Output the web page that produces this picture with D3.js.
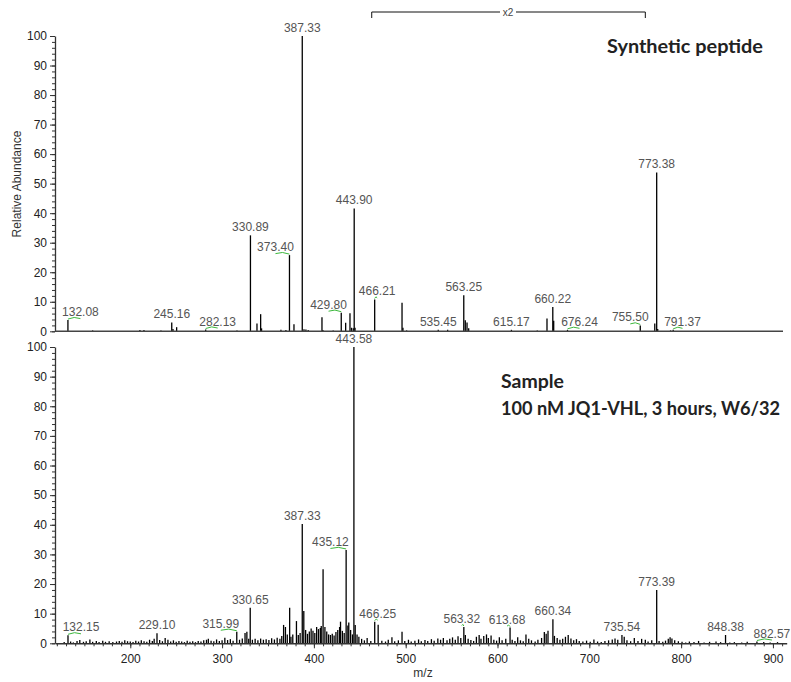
<!DOCTYPE html>
<html>
<head>
<meta charset="utf-8">
<script src="https://cdn.jsdelivr.net/npm/d3@7"></script>
<style>
  body { margin: 0; background: #fff; }
  svg { display: block; }
  text { font-family: "Liberation Sans", Arial, sans-serif; }
  text.title { font-family: Lato, "Open Sans", sans-serif; font-weight: bold; }
</style>
</head>
<body>
<svg id="chart" width="791" height="682"></svg>
<script>
// ---- data: [m/z, relative abundance] ----
let synthPeaks = [
    [132.08, 3.8], [159, 0.3], [210.5, 0.4], [214.9, 0.4], [233.4, 0.3], [245.16, 3.0], [246.5, 0.8],
    [250.5, 1.4], [282.13, 0.6], [316.2, 0.3], [330.89, 32.5], [338, 2.6], [342, 5.8], [343, 1.0],
    [364.1, 0.5], [369.5, 0.4], [373.40, 25.8], [378.3, 2.4], [387.33, 100], [389.2, 0.7], [391.3, 0.6],
    [393.8, 0.4], [408.8, 4.8], [409.8, 0.4], [421, 0.3], [429.80, 6.3], [434.6, 2.9], [439.3, 6.1],
    [441, 1.2], [442.9, 1.0], [443.90, 41.6], [444.8, 1.2], [466.21, 10.8], [496, 9.7], [497, 1.2],
    [501, 0.3], [535.45, 0.5], [545.7, 0.5], [563.25, 12.2], [564.9, 3.7], [566.8, 3.0], [568.6, 1.0],
    [615.17, 0.5], [643.3, 0.3], [653.9, 4.3], [660.22, 8.2], [661.2, 3.6], [676.24, 0.5], [755.50, 2.0],
    [771.3, 2.6], [773.38, 53.8], [774.5, 0.8], [788.5, 0.3], [791.37, 0.5]
];
let synthLabels = [132.08, 245.16, 282.13, 330.89, 373.40, 387.33, 429.80, 443.90, 466.21,
    535.45, 563.25, 615.17, 660.22, 676.24, 755.50, 773.38, 791.37];

let samplePeaks = [
    [128, 0.4], [132.15, 2.7], [135, 0.6], [138, 0.3], [142, 0.8], [145, 1.1], [149, 0.5], [152, 0.7],
    [156, 1.3], [159, 0.5], [163, 0.8], [166, 0.4], [170, 0.9], [173, 0.5], [177, 0.7], [181, 0.4],
    [185, 0.6], [188, 0.8], [191, 0.5], [194, 1.0], [197, 0.7], [200, 0.6], [203, 0.4], [206, 0.9],
    [209, 0.6], [212, 1.0], [215, 0.7], [218, 0.5], [221, 1.2], [224, 0.8], [226, 1.5], [229.10, 3.4],
    [232, 1.1], [235, 0.7], [238, 1.8], [241, 1.2], [244, 0.6], [247, 1.0], [250, 0.5], [253, 0.8],
    [256, 0.6], [259, 0.4], [262, 0.9], [265, 0.5], [268, 0.7], [271, 0.4], [274, 0.8], [277, 0.6],
    [280, 1.0], [283, 1.2], [285, 1.5], [288, 0.9], [291, 0.7], [294, 1.3], [297, 0.8], [300, 1.0],
    [303, 1.9], [306, 1.1], [309, 1.4], [312, 0.9], [315.99, 3.9], [319, 1.2], [322, 1.6], [325, 3.5],
    [327, 3.9], [329, 1.5], [330.65, 12.0], [333, 1.2], [336, 1.5], [339, 1.0], [342, 1.6], [345, 1.2],
    [348, 1.4], [351, 1.1], [354, 1.7], [357, 1.3], [360, 1.9], [363, 1.5], [365, 2.5], [367, 6.2],
    [369, 5.5], [371, 3.0], [373.6, 12.0], [375, 2.2], [377, 3.0], [381, 7.5], [383, 2.8], [385, 3.5],
    [387.33, 40.3], [389, 10.9], [391, 4.5], [393, 3.2], [395, 4.0], [397, 5.0], [399, 4.2], [401, 3.5],
    [403, 5.5], [405, 4.8], [407, 5.2], [408, 5.8], [410, 25.0], [412, 5.5], [414, 4.0], [416, 3.0],
    [418, 2.8], [420, 3.2], [422, 2.6], [424, 3.8], [426, 4.5], [428, 5.5], [429, 7.3], [431, 4.2],
    [433, 3.5], [435.12, 31.5], [437, 6.0], [438, 7.0], [440, 4.5], [442, 3.0], [443.58, 100], [445, 6.2],
    [447, 3.0], [449, 2.2], [452, 1.5], [455, 1.0], [458, 1.8], [462, 0.8], [466.25, 7.3], [470, 6.3],
    [474, 0.9], [478, 0.6], [481, 1.2], [485, 2.0], [488, 0.7], [492, 1.0], [496, 3.9], [499, 0.8],
    [503, 1.2], [506, 0.6], [510, 0.9], [514, 1.3], [517, 0.7], [521, 1.1], [524, 0.8], [528, 1.4],
    [531, 0.9], [535, 1.6], [538, 1.2], [541, 1.8], [545, 1.0], [548, 1.5], [551, 2.0], [554, 1.2],
    [557, 2.4], [560, 1.8], [563.32, 5.5], [565, 2.8], [568, 1.5], [571, 1.1], [574, 0.8], [577, 2.2],
    [580, 2.8], [582, 1.5], [585, 2.5], [588, 3.0], [590, 1.8], [593, 2.6], [596, 1.2], [599, 0.9],
    [602, 2.0], [605, 1.0], [609, 1.5], [613.68, 5.3], [616, 1.2], [619, 0.8], [622, 2.0], [625, 1.0],
    [628, 0.7], [631, 3.0], [634, 1.5], [637, 1.0], [641, 0.6], [644, 1.2], [648, 1.8], [651, 3.8],
    [653, 3.2], [655, 4.2], [660.34, 8.1], [662, 2.5], [665, 1.8], [668, 1.2], [671, 1.5], [674, 2.2],
    [677, 2.8], [680, 1.6], [683, 1.0], [686, 1.4], [689, 0.8], [693, 0.6], [697, 0.9], [701, 0.5],
    [705, 1.3], [709, 0.6], [713, 0.4], [717, 0.8], [721, 1.0], [725, 1.3], [728, 1.6], [731, 1.2],
    [735.54, 2.8], [738, 2.2], [741, 1.0], [745, 0.7], [749, 1.8], [753, 0.8], [757, 1.5], [761, 1.2],
    [764, 0.6], [768, 1.0], [773.39, 18.0], [776, 0.8], [780, 0.5], [783, 0.9], [786, 1.5], [788, 2.0],
    [790, 1.6], [793, 1.0], [797, 0.7], [801, 0.5], [805, 0.3], [809, 0.6], [814, 0.4], [819, 0.8],
    [825, 0.3], [831, 0.5], [838, 0.6], [843, 0.4], [848.38, 2.8], [853, 0.3], [858, 0.4], [866, 0.3],
    [872, 0.5], [882.57, 0.6], [890, 0.4], [897, 0.3], [905, 0.4]
];
let sampleLabels = [132.15, 229.10, 315.99, 330.65, 387.33, 435.12, 443.58, 466.25,
    563.32, 613.68, 660.34, 735.54, 773.39, 848.38, 882.57];

let xTicks = [200, 300, 400, 500, 600, 700, 800, 900];
let yTicks = [0, 10, 20, 30, 40, 50, 60, 70, 80, 90, 100];
let zoomRegion = [463, 761]; // "x2" bracket, m/z
let synthTitle = ["Synthetic peptide"];
let sampleTitle = ["Sample", "100 nM JQ1-VHL, 3 hours, W6/32"];

// ---- layout ----
// labels pushed sideways to avoid overlap (px); a green leader marks them
let labelNudge = {
    top: { "132.08": 12.5, "282.13": 12, "373.40": -14, "429.80": -12.7, "466.21": 2.5,
           "676.24": 12, "755.50": -10, "791.37": 9.3 },
    bottom: { "132.15": 13, "315.99": -16, "435.12": -15.7, "466.25": 3, "563.32": -2,
              "613.68": -3, "882.57": 15 }
};

const svg = d3.select("#chart");
const x = d3.scaleLinear().domain([118, 915]).range([55, 786.7]);

const panels = [
    { key: "top", peaks: synthPeaks, labels: synthLabels, y: d3.scaleLinear().domain([0, 100]).range([331.3, 36]) },
    { key: "bottom", peaks: samplePeaks, labels: sampleLabels, y: d3.scaleLinear().domain([0, 100]).range([643.3, 347]) }
];

panels.forEach(function (p) {
    let g = svg.append("g").attr("class", "panel-" + p.key);

    // bars
    g.append("g").selectAll("line")
        .data(p.peaks)
        .join("line")
        .attr("x1", d => x(d[0])).attr("x2", d => x(d[0]))
        .attr("y1", p.y(0)).attr("y2", d => p.y(d[1]))
        .attr("stroke", "#000")
        .attr("stroke-width", 1.3);

    // y axis: major + minor ticks
    let yMinor = g.append("g").attr("transform", "translate(55,0)")
        .call(d3.axisLeft(p.y).tickValues(d3.range(0, 101, 2)).tickSize(3).tickSizeOuter(0).tickFormat(""));
    yMinor.select(".domain").remove();
    let yAxis = g.append("g").attr("transform", "translate(55,0)")
        .call(d3.axisLeft(p.y).tickValues(yTicks).tickSize(5).tickSizeOuter(0).tickPadding(3));
    yAxis.selectAll("text").attr("font-size", 12).attr("fill", "#222");
    yAxis.select(".domain").attr("stroke-width", 1.3);

    // x axis
    if (p.key === "bottom") {
        let xMinor = g.append("g").attr("transform", "translate(0," + p.y(0) + ")")
            .call(d3.axisBottom(x).tickValues(d3.range(120, 911, 10)).tickSize(3).tickSizeOuter(0).tickFormat(""));
        xMinor.select(".domain").remove();
        let xAxis = g.append("g").attr("transform", "translate(0," + p.y(0) + ")")
            .call(d3.axisBottom(x).tickValues(xTicks).tickSize(5).tickSizeOuter(0).tickPadding(6));
        xAxis.selectAll("text").attr("font-size", 12).attr("fill", "#222");
        xAxis.select(".domain").attr("stroke-width", 1.5);
    } else {
        g.append("line")
            .attr("x1", 55).attr("x2", 783)
            .attr("y1", p.y(0)).attr("y2", p.y(0))
            .attr("stroke", "#444").attr("stroke-width", 1.5);
    }
    g.selectAll(".tick line, .domain").attr("stroke", "#333");

    // peak labels
    let lab = p.labels.map(function (m) {
        let pk = p.peaks.find(d => Math.abs(d[0] - m) < 0.001);
        let key = m.toFixed(2);
        return { m: m, h: pk ? pk[1] : 0, txt: key, dx: labelNudge[p.key][key] || 0 };
    });

    g.append("g").selectAll("path")
        .data(lab.filter(d => Math.abs(d.dx) > 1))
        .join("path")
        .attr("d", function (d) {
            let x0 = x(d.m), x1 = x0 + d.dx, yy = p.y(d.h) - 1;
            return "M" + x0 + "," + yy + " Q" + (x0 + x1) / 2 + "," + (yy - 3) + " " + x1 + "," + (yy - 0.5);
        })
        .attr("fill", "none").attr("stroke", "#3cb83c").attr("stroke-width", 1);

    g.append("g").selectAll("text")
        .data(lab)
        .join("text")
        .attr("x", d => x(d.m) + d.dx)
        .attr("y", d => p.y(d.h) - 4)
        .attr("text-anchor", "middle")
        .attr("font-size", 12)
        .attr("fill", "#555")
        .text(d => d.txt);
});

// "x2" bracket over the top spectrum
let bx0 = x(zoomRegion[0]), bx1 = x(zoomRegion[1]);
let bracket = svg.append("g").attr("stroke", "#111").attr("fill", "none").attr("stroke-width", 1);
bracket.append("path").attr("d", "M" + bx0 + ",18 V12 H500");
bracket.append("path").attr("d", "M516,12 H" + bx1 + " V18");
svg.append("text").attr("x", 508).attr("y", 16).attr("text-anchor", "middle")
    .attr("font-size", 10).attr("fill", "#444").text("x2");

// axis titles
svg.append("text")
    .attr("transform", "translate(21,184) rotate(-90)")
    .attr("text-anchor", "middle").attr("font-size", 12).attr("fill", "#333")
    .text("Relative Abundance");
svg.append("text").attr("x", 423).attr("y", 677).attr("text-anchor", "middle")
    .attr("font-size", 12).attr("fill", "#333").text("m/z");

// panel titles
svg.append("text").attr("class", "title").attr("x", 607).attr("y", 53)
    .attr("font-size", 18).attr("fill", "#222")
    .attr("textLength", 156).attr("lengthAdjust", "spacingAndGlyphs")
    .text(synthTitle[0]);
svg.selectAll(".sample-title")
    .data(sampleTitle)
    .join("text")
    .attr("class", "title sample-title")
    .attr("x", 501).attr("y", (d, i) => 388 + i * 27)
    .attr("font-size", 18).attr("fill", "#222")
    .attr("textLength", (d, i) => i === 0 ? 63 : 279)
    .attr("lengthAdjust", "spacingAndGlyphs")
    .text(d => d);
</script>
</body>
</html>
